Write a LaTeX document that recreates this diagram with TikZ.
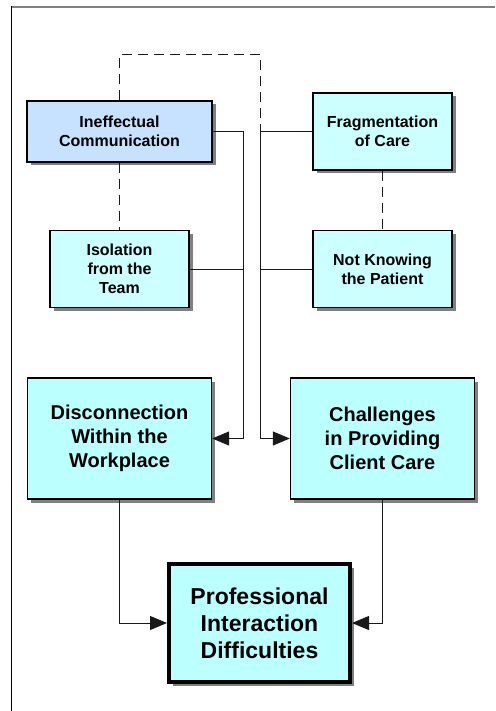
\documentclass[tikz,border=0pt]{standalone}
\usepackage{fontspec}
\setmainfont{Liberation Sans}
\usetikzlibrary{
    positioning,
    shadows,
    arrows.meta
}
\definecolor{commblue}{HTML}{C6E2FF}
\definecolor{lowcyan}{HTML}{CCFFFF}
\definecolor{highcyan}{HTML}{BBFFFF}
\tikzset{
    >={Triangle[length=17pt,width=14pt]},
    box/.style={draw=black, line width=1.3pt, align=center, inner sep=0pt,
        font=\bfseries,
        drop shadow={shadow xshift=3.5pt, shadow yshift=-3.5pt, fill=gray, opacity=1}},
    cause/.style={box, fill=lowcyan, minimum width=139pt, minimum height=77pt,
        font=\bfseries\fontsize{16}{19}\selectfont},
    theme/.style={box, fill=highcyan, minimum width=184pt, minimum height=121pt,
        font=\bfseries\fontsize{20}{24}\selectfont},
    core/.style={box, fill=highcyan, line width=4pt, minimum width=181pt, minimum height=118pt,
        font=\bfseries\fontsize{23}{27}\selectfont},
    link/.style={line width=1pt, draw=black!90},
    loose/.style={link, dash pattern=on 10pt off 6pt},
}

\begin{document}
\begin{tikzpicture}[x=1pt,y=-1pt,node distance=263pt,on grid]
   \useasboundingbox (0,0) rectangle (495,711);
   \draw[gray, line width=2pt] (11,7) -- (495,7);
   \draw[line width=1.2pt] (11.5,6) -- (11.5,711);

   \node[cause,fill=commblue,minimum width=185pt,minimum height=61pt] (comm) at (119.5,131.5) {Ineffectual\\Communication};
   \node[cause] (frag) [right=263pt of comm] {Fragmentation\\of Care};
   \node[cause] (isol) [below=137.5pt of comm] {Isolation\\from the\\Team};
   \node[cause] (know) [right=263pt of isol] {Not Knowing\\the Patient};
   \node[theme] (disc) [below=169.5pt of isol] {Disconnection\\Within the\\Workplace};
   \node[theme] (chal) [right=263pt of disc] {Challenges\\in Providing\\Client Care};
   \node[core] (prof) [below right=184.5pt and 140pt of disc] {Professional\\Interaction\\Difficulties};

   \coordinate (busL) at (243,131.5);
   \coordinate (busR) at (260,131.5);

   \draw[loose] (comm.north) -- ++(0,-46) -| (busR);
   \draw[loose] (comm.south) -- (isol.north);
   \draw[loose] (frag.south) -- (know.north);
   \draw[link,->] (comm.east) -- (busL) |- (disc.east);
   \draw[link] (isol.east) -- (isol.east -| busL);
   \draw[link,->] (frag.west) -- (busR) |- (chal.west);
   \draw[link] (know.west) -- (know.west -| busR);
   \draw[link,->] (disc.south) |- (prof.west);
   \draw[link,->] (chal.south) |- (prof.east);
\end{tikzpicture}
\end{document}
